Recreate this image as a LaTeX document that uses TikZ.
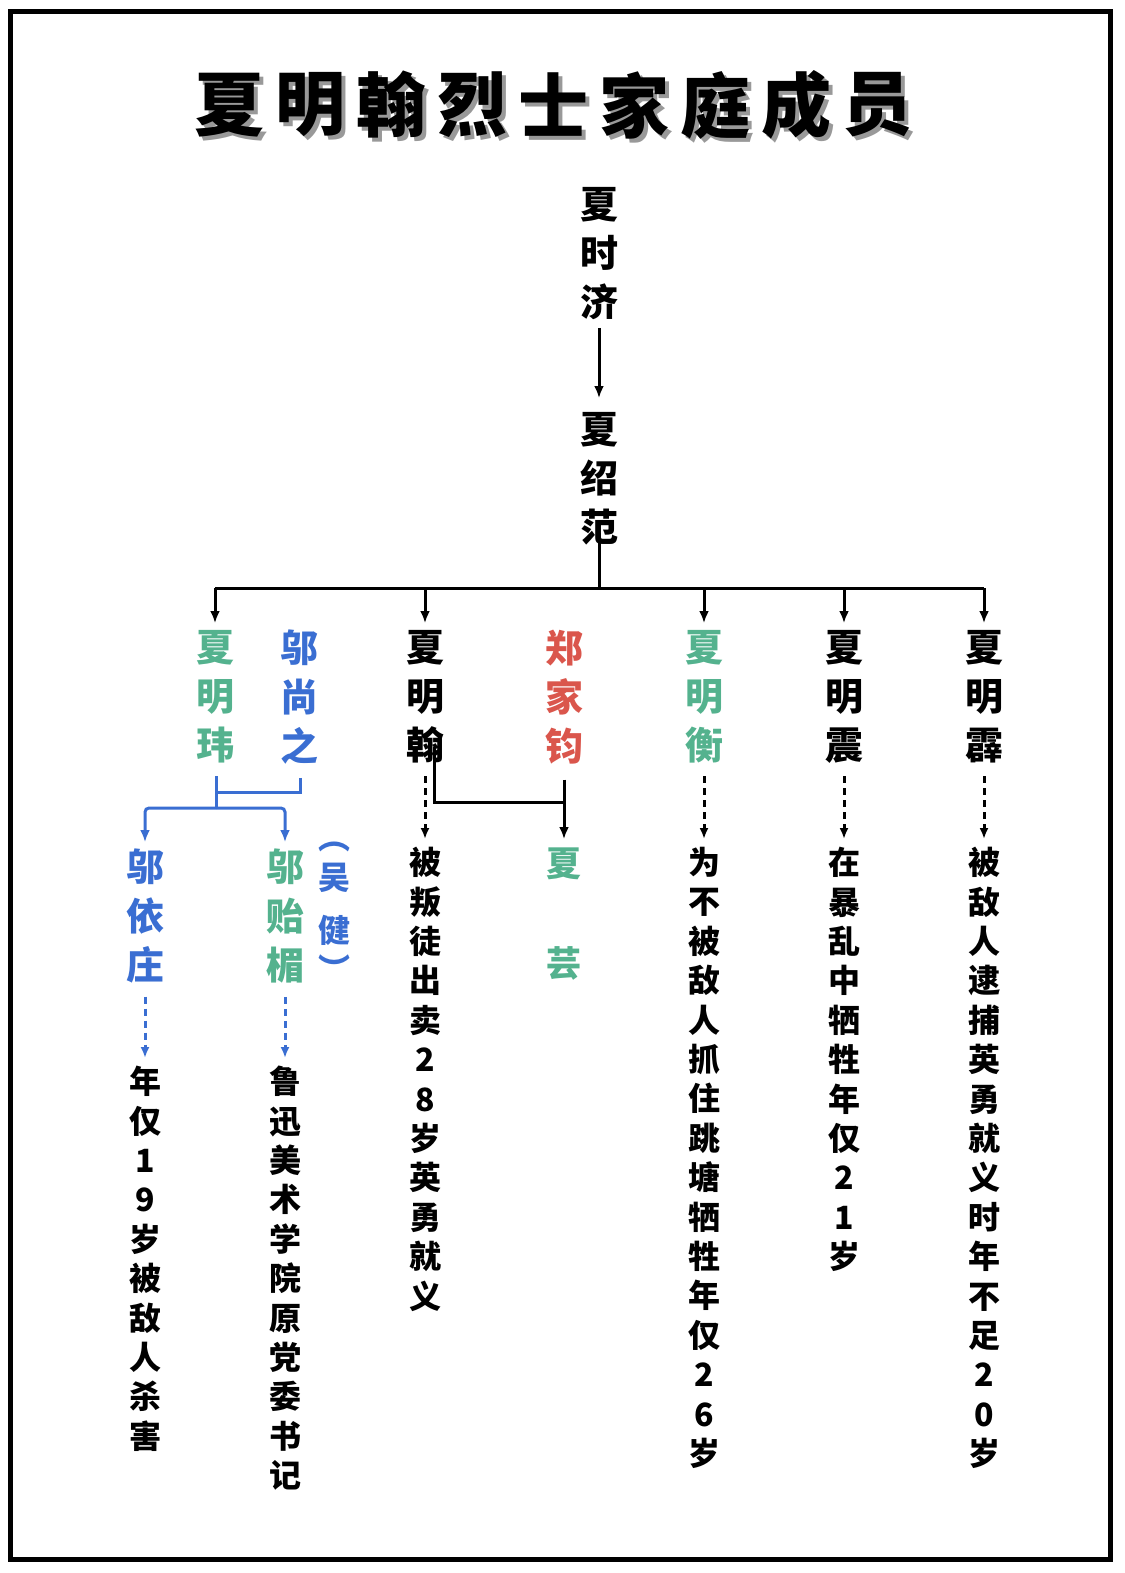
\documentclass[tikz,border=0pt]{standalone}
\usepackage{fontspec}
\newfontfamily\cjk{Noto Sans CJK SC}
\usetikzlibrary{arrows.meta}
\usetikzlibrary{positioning}
\definecolor{famgreen}{RGB}{84,178,142}
\definecolor{famblue}{RGB}{58,110,210}
\definecolor{famred}{RGB}{218,86,76}
\tikzset{
  namecol/.style={font=\cjk\bfseries\fontsize{38}{49}\selectfont, align=center, inner sep=0pt, anchor=north},
  desccol/.style={font=\cjk\bfseries\fontsize{32}{39.4}\selectfont, align=center, inner sep=0pt, anchor=north},
  titlechar/.style={font=\cjk\bfseries\fontsize{70}{80}\selectfont, inner sep=0pt},
  link/.style={black, line width=3pt, -{Latex[length=12pt,width=10pt]}},
  dashlink/.style={line width=3pt, -{Latex[length=11pt,width=9pt]}, dash pattern=on 7pt off 5pt}
}
\begin{document}
\begin{tikzpicture}[x=1pt, y=-1pt]
\useasboundingbox (0,0) rectangle (1124,1573);
\draw[line width=5pt] (10,12) rectangle (1110,1559);
% title with shadow
\foreach \c [count=\i] in {夏,明,翰,烈,士,家,庭,成,员}
 {
 \node[titlechar, text=black!40] at (148+81*\i+4,105+4) {\c};
 \node[titlechar] (t\i) at (148+81*\i,105) {\c};
 }
% first generations
\node[namecol] (shiji) at (599,187) {夏\\时\\济};
\node[namecol] (shaofan) at (599,412) {夏\\绍\\范};
\draw[link, shorten <=8pt, shorten >=14pt] (shiji.south) -- (shaofan.north);
% children of shaofan
\node[namecol, text=famgreen] (mingwei) at (215,630) {夏\\明\\玮};
\node[namecol, text=famblue] (shangzhi) at (299,630) {邬\\尚\\之};
\node[namecol] (minghan) at (425,630) {夏\\明\\翰};
\node[namecol, text=famred] (jiajun) at (564,630) {郑\\家\\钧};
\node[namecol, text=famgreen] (mingheng) at (704,630) {夏\\明\\衡};
\node[namecol] (mingzhen) at (844,630) {夏\\明\\震};
\node[namecol] (mingpi) at (984,630) {夏\\明\\霹};
\coordinate (fork) at (599,588);
\draw[black, line width=3pt] (shaofan.south) ++(0,-12) -- (fork);
\draw[black, line width=3pt] (mingwei.north |- fork) -- (mingpi.north |- fork);
\foreach \n in {mingwei,minghan,mingheng,mingzhen,mingpi}
 \draw[link, shorten >=7pt] (\n.north |- fork) -- (\n.north);
% grandchildren
\node[namecol, text=famblue] (yizhuang) at (145,849) {邬\\依\\庄};
\node[namecol, text=famgreen] (yimei) at (285,849) {邬\\贻\\楣};
\node[font=\cjk\bfseries\fontsize{32}{39.4}\selectfont, align=center, inner sep=0pt, anchor=north, text=famblue] (wujian) at (334,842) {︵\\吴\\[14pt]健\\︶};
\node[font=\cjk\bfseries\fontsize{35}{100}\selectfont, align=center, inner sep=0pt, anchor=north, text=famgreen] (xiayun) at (564,848) {夏\\芸};
\coordinate (wfork) at (216,808);
\draw[famblue, line width=3pt] (mingwei.south) ++(1,13) -- (wfork);
\draw[famblue, line width=3pt] (shangzhi.south) ++(1,13) |- (216,792);
\draw[famblue, line width=3pt, rounded corners=4pt, -{Latex[length=12pt,width=10pt]}] (wfork) -| ([yshift=7pt]yizhuang.north);
\draw[famblue, line width=3pt, rounded corners=4pt, -{Latex[length=12pt,width=10pt]}] (wfork) -| ([yshift=7pt]yimei.north);
\draw[black, line width=3pt] ([xshift=9pt,yshift=16pt]minghan.south) |- (jiajun.south |- 0,802);
\draw[link, shorten <=15pt] (jiajun.south) -- ([yshift=9pt]xiayun.north);
% notes
\node[desccol] (yizhuangnote) at (145,1066) {年\\仅\\1\\9\\岁\\被\\敌\\人\\杀\\害};
\node[desccol] (yimeinote) at (285,1066) {鲁\\迅\\美\\术\\学\\院\\原\\党\\委\\书\\记};
\node[desccol] (minghannote) at (425,847) {被\\叛\\徒\\出\\卖\\2\\8\\岁\\英\\勇\\就\\义};
\node[desccol] (minghengnote) at (704,847) {为\\不\\被\\敌\\人\\抓\\住\\跳\\塘\\牺\\牲\\年\\仅\\2\\6\\岁};
\node[desccol] (mingzhennote) at (844,847) {在\\暴\\乱\\中\\牺\\牲\\年\\仅\\2\\1\\岁};
\node[desccol] (mingpinote) at (984,847) {被\\敌\\人\\逮\\捕\\英\\勇\\就\\义\\时\\年\\不\\足\\2\\0\\岁};
\foreach \n in {yizhuang,yimei}
 \draw[dashlink, famblue, shorten <=13pt, shorten >=8pt] (\n.south) -- (\n note.north);
\foreach \n in {minghan,mingheng,mingzhen,mingpi}
 \draw[dashlink, black, shorten <=13pt, shorten >=8pt] (\n.south) -- (\n note.north);
\end{tikzpicture}
\end{document}
